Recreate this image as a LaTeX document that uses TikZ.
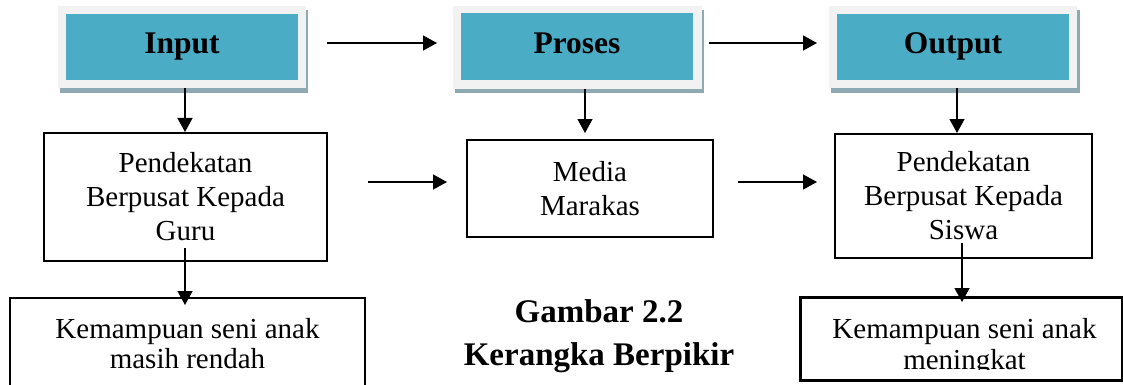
\documentclass[tikz,border=0pt]{standalone}
\usepackage{fontspec}
\setmainfont{Liberation Serif}
\usetikzlibrary{arrows.meta}
\definecolor{tealbox}{HTML}{4BACC6}
\definecolor{framebox}{HTML}{F2F2F2}
\definecolor{shadowbox}{HTML}{8FA9B3}
\begin{document}
\begin{tikzpicture}[x=1pt,y=-1pt,
  hdr/.style={fill=tealbox, draw=none, minimum width=232pt, minimum height=66pt, inner sep=0pt,
    text height=14pt, text depth=0pt, font=\fontsize{31.5}{36}\selectfont\bfseries},
  frm/.style={fill=framebox, draw=none, minimum width=248pt, minimum height=82pt, inner sep=0pt},
  box/.style={draw=black, line width=2pt, fill=white, align=center, inner sep=0pt,
    font=\fontsize{29}{34}\selectfont},
  txt/.style={anchor=base, inner sep=0pt, font=\fontsize{29}{34}\selectfont},
  arr/.style={-{Triangle[length=14pt,width=15pt]}, line width=1.3pt},
  captext/.style={align=center, inner sep=0pt, font=\fontsize{33}{43}\selectfont\bfseries}]
\clip (0,0) rectangle (1123,385);
\fill[white] (0,0) rectangle (1123,385);
% header boxes
\fill[shadowbox] (60,10) rectangle (308,93);
\node[frm] (inF) at (182,47) {};
\node[hdr] (in) at (182,47) {Input};
\fill[shadowbox] (455,10) rectangle (704,93);
\node[frm, minimum width=249pt, minimum height=83pt] (prF) at (577.5,47.5) {};
\node[hdr, minimum height=67pt] (pr) at (577,46.5) {Proses};
\fill[shadowbox] (831,10) rectangle (1080,93);
\node[frm] (ouF) at (953,47) {};
\node[hdr] (ou) at (953,47) {Output};
% middle row
\node[box, minimum width=283pt, minimum height=128pt] (gl) at (185.5,197) {Pendekatan\\Berpusat Kepada\\Guru};
\node[box, minimum width=246pt, minimum height=97pt] (md) at (590,188.5) {Media\\Marakas};
\node[box, minimum width=257pt, minimum height=124pt] (sw) at (963.5,196) {Pendekatan\\Berpusat Kepada\\Siswa};
% bottom row
\node[box, minimum width=355pt, minimum height=100pt] (kl) at (187.5,348) {};
\node[txt] (kl1) at (187.5,338) {Kemampuan seni anak};
\node[txt] (kl2) at (187.5,368) {masih rendah};
\node[box, minimum width=321pt, minimum height=82pt] (kr) at (961.5,339) {};
\begin{scope}
  \clip (802,299) rectangle (1121,369.5);
  \node[txt] (kr1) at (964.5,338) {Kemampuan seni anak};
  \node[txt] (kr2) at (964.5,369.5) {meningkat};
\end{scope}
\draw[line width=2pt] (kr.north west) rectangle (kr.south east);
% caption
\node[captext] (capt) at (599,336) {Gambar 2.2\\Kerangka Berpikir};
% coordinates for free arrow ends
\coordinate (h1s) at (327,43);
\coordinate (h1e) at (437,43);
\coordinate (h2s) at (709,43);
\coordinate (h2e) at (817,43);
\coordinate (m1s) at (368,182);
\coordinate (m1e) at (447,182);
\coordinate (m2s) at (738,182);
\coordinate (m2e) at (817,182);
\coordinate (v2t) at (585,133);
\coordinate (l3s) at (185,248);
\coordinate (l3e) at (185,305);
\coordinate (r3s) at (962,243);
\coordinate (r3e) at (962,302);
% arrows
\draw[arr] (h1s) -- (h1e);
\draw[arr] (h2s) -- (h2e);
\draw[arr] (m1s) -- (m1e);
\draw[arr] (m2s) -- (m2e);
\draw[arr] ([xshift=3pt]inF.south) -- ([xshift=3pt]inF.south |- gl.north);
\draw[arr] (prF.south -| v2t) -- (v2t);
\draw[arr] ([xshift=4pt]ouF.south) -- ([xshift=4pt]ouF.south |- sw.north);
\draw[arr] (l3s) -- (l3e);
\draw[arr] (r3s) -- (r3e);
\end{tikzpicture}
\end{document}
